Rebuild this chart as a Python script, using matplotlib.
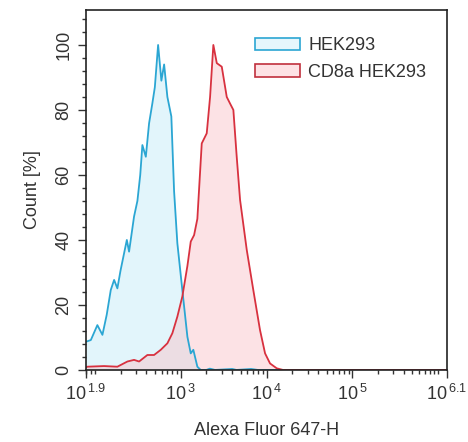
import numpy as np
import matplotlib.pyplot as plt
from matplotlib.ticker import NullFormatter

plt.rcParams['font.family'] = ['Liberation Sans', 'DejaVu Sans']
plt.rcParams['mathtext.default'] = 'regular'

# histogram outlines (log10 of intensity, count %)
hek_log = [1.90, 1.955, 2.031, 2.09, 2.14, 2.187, 2.226, 2.264, 2.30, 2.342, 2.374, 2.40,
           2.458, 2.497, 2.53, 2.555, 2.595, 2.633, 2.671, 2.70, 2.738, 2.776, 2.808,
           2.846, 2.892, 2.924, 2.962, 3.02, 3.079, 3.118, 3.148, 3.195, 3.234, 3.30,
           3.34, 3.40, 3.60, 3.65, 3.82, 3.90, 6.1]
hek_pct = [8.7, 9.2, 13.8, 10.8, 17.0, 24.6, 27.7, 25.1, 30.5, 35.9, 40.0, 36.4,
           47.2, 52.0, 60.0, 69.2, 65.6, 75.9, 82.0, 87.0, 100.0, 89.0, 94.0,
           84.0, 78.0, 55.0, 39.0, 24.6, 10.2, 5.1, 6.2, 1.0, 0.0, 0.0,
           0.4, 0.0, 0.3, 0.0, 0.3, 0.0, 0.0]

cd8_log = [1.90, 1.915, 2.109, 2.264, 2.381, 2.458, 2.517, 2.613, 2.691, 2.769, 2.846,
           2.904, 2.962, 3.02, 3.079, 3.118, 3.157, 3.195, 3.207, 3.246, 3.304, 3.343,
           3.381, 3.421, 3.479, 3.537, 3.575, 3.614, 3.653, 3.692, 3.77, 3.846, 3.924,
           3.983, 4.041, 4.119, 4.192, 6.1]
cd8_pct = [0.8, 1.0, 1.2, 1.0, 2.6, 3.1, 2.6, 4.6, 4.6, 6.2, 8.2,
           11.3, 16.4, 22.6, 32.0, 39.5, 41.5, 46.5, 52.0, 69.7, 72.8, 84.0,
           100.0, 94.4, 93.3, 84.0, 82.0, 80.0, 65.6, 52.3, 36.9, 24.6, 12.3,
           5.1, 2.0, 0.5, 0.0, 0.0]

major_log = [1.9, 3, 4, 5, 6.1]
major_labels = ['$10^{\\,1.9}$', '$10^{\\,3}$', '$10^{\\,4}$', '$10^{\\,5}$', '$10^{\\,6.1}$']

fig = plt.figure(figsize=(4.68, 4.42), dpi=100)
ax = fig.add_axes([0.184, 0.163, 0.771, 0.814])

hx = 10 ** np.array(hek_log)
cx = 10 ** np.array(cd8_log)

ax.fill_between(hx, hek_pct, color='#bfe9f8', alpha=0.45, lw=0)
ax.fill_between(cx, cd8_pct, color='#f9c0c6', alpha=0.45, lw=0)
ax.plot(hx, hek_pct, color='#2ba6d3', lw=1.3)
ax.plot(cx, cd8_pct, color='#d8313f', lw=1.3)

ax.set_xscale('log')
ax.set_xlim(10 ** 1.9, 10 ** 6.1)
ax.set_ylim(0, 110.7)

ax.set_xticks([10 ** v for v in major_log])
ax.set_xticklabels(major_labels)
minors = [m * 10 ** d for d in range(1, 7) for m in range(1, 10)]
minors = [v for v in minors if 10 ** 1.9 < v < 10 ** 6.1 and v not in (1e3, 1e4, 1e5)]
ax.set_xticks(minors, minor=True)
ax.xaxis.set_minor_formatter(NullFormatter())

ax.set_yticks(range(0, 101, 20))
ax.set_yticks(range(0, 109, 4), minor=True)
for lab in ax.get_yticklabels():
    lab.set_rotation(90)
    lab.set_va('center')

ax.tick_params(which='major', length=6, width=1, labelsize=13, colors='#333333')
ax.tick_params(which='minor', length=3, width=1, colors='#333333')
ax.tick_params(axis='x', pad=4)
ax.tick_params(axis='y', pad=4)
for s in ax.spines.values():
    s.set_color('#222222')
    s.set_linewidth(1.2)

ax.set_xlabel('Alexa Fluor 647-H', fontsize=13, color='#333333', labelpad=13)
ax.set_ylabel('Count [%]', fontsize=13, color='#333333', labelpad=10)

h1 = plt.Rectangle((0, 0), 1, 1, facecolor='#e6f6fc', edgecolor='#2ba6d3', lw=1.2)
h2 = plt.Rectangle((0, 0), 1, 1, facecolor='#fde2e5', edgecolor='#c0303d', lw=1.2)
ax.legend([h1, h2], ['HEK293', 'CD8a HEK293'], loc='upper left',
          bbox_to_anchor=(0.468, 0.925), frameon=False, fontsize=13,
          handlelength=2.5, handleheight=0.7, handletextpad=0.45,
          labelspacing=0.55, borderpad=0, borderaxespad=0, labelcolor='#333333')

fig.savefig('out.png', dpi=100)
